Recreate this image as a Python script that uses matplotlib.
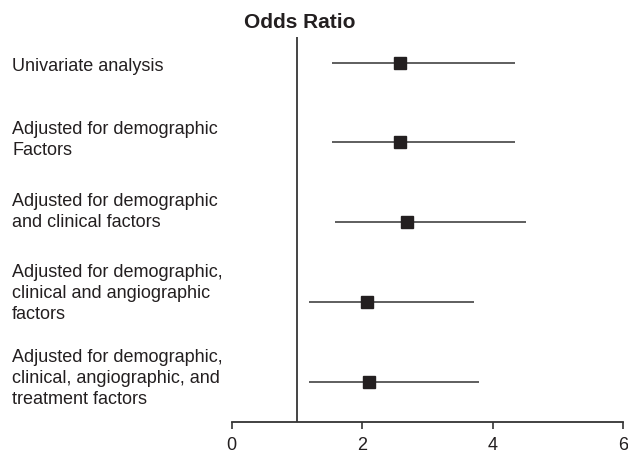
import matplotlib
matplotlib.use("Agg")
import matplotlib.pyplot as plt
import matplotlib.transforms as mtransforms

plt.rcParams['font.family'] = ['Liberation Sans', 'DejaVu Sans']

labels = [
    "Univariate analysis",
    "Adjusted for demographic\nFactors",
    "Adjusted for demographic\nand clinical factors",
    "Adjusted for demographic,\nclinical and angiographic\nfactors",
    "Adjusted for demographic,\nclinical, angiographic, and\ntreatment factors",
]
odds_ratio = [2.59, 2.59, 2.69, 2.08, 2.11]
ci_low = [1.54, 1.54, 1.59, 1.19, 1.19]
ci_high = [4.34, 4.34, 4.51, 3.71, 3.80]
xticks = [0, 2, 4, 6]
title = "Odds Ratio"

fig = plt.figure(figsize=(6.28, 4.60), dpi=100)
ax = fig.add_axes([231.5 / 628, 1 - 422.7 / 460, (623 - 231.5) / 628, (422.7 - 38) / 460])

rows = list(range(1, len(labels) + 1))
dark = "#231f20"
for r, lo, hi in zip(rows, ci_low, ci_high):
    ax.plot([lo, hi], [r, r], color="#333333", lw=1.1, solid_capstyle="butt", zorder=2)
ax.plot(odds_ratio, rows, linestyle="none", marker="s", markersize=8,
        color=dark, zorder=3)

ax.axvline(1, color="#444444", lw=1.4, zorder=1)

ax.set_xlim(0, 6)
ax.set_ylim(5.5, 0.68)
ax.set_xticks(xticks)
ax.set_xticklabels([str(t) for t in xticks], fontsize=13, color=dark)
ax.set_yticks([])
for s in ["top", "right", "left"]:
    ax.spines[s].set_visible(False)
ax.spines["bottom"].set_color("#333333")
ax.spines["bottom"].set_linewidth(1.3)
ax.tick_params(axis="x", direction="out", length=5, width=1.2, color="#333333", pad=5)

trans = mtransforms.blended_transform_factory(fig.transFigure, ax.transData)
label_offsets = [0.04, -0.045, -0.14, -0.12, -0.05]
for r, lab, off in zip(rows, labels, label_offsets):
    ax.text(12 / 628, r + off, lab, transform=trans, ha="left", va="center",
            fontsize=13, color=dark, linespacing=1.3)

fig.text(300 / 628, 1 - 22 / 460, title, ha="center", va="center",
         fontsize=15, fontweight="bold", color=dark)

fig.savefig("out.png", dpi=100)
